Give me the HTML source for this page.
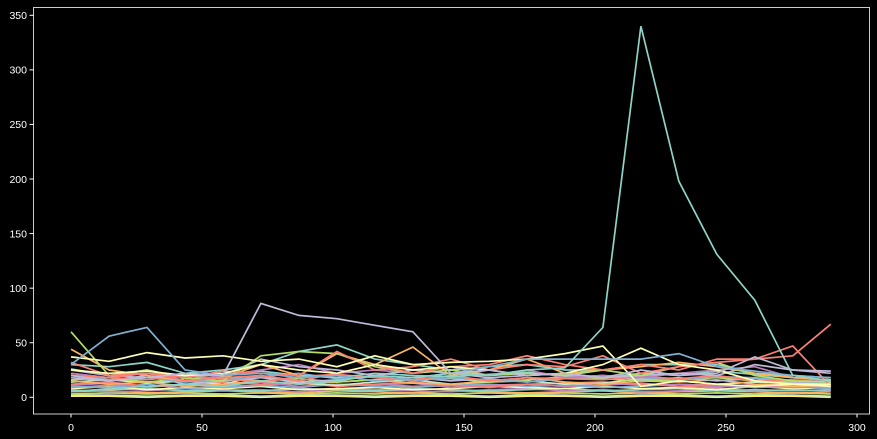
<!DOCTYPE html>
<html><head><meta charset="utf-8"><style>
html,body{margin:0;padding:0;background:#000;width:877px;height:439px;overflow:hidden}
svg text{font-family:"Liberation Sans","DejaVu Sans",sans-serif;font-size:10.5px;fill:#fff}
</style></head><body>
<svg id="chart" width="877" height="439" xmlns="http://www.w3.org/2000/svg">
<rect x="0" y="0" width="877" height="439" fill="#000"/>
<g id="lines"></g>
<rect x="33.5" y="7.5" width="836" height="406.5" fill="none" stroke="#fff" stroke-width="0.8"/>
<g id="axes"></g>
</svg>
<script>
const xTicks=[0,50,100,150,200,250,300];
const yTicks=[0,50,100,150,200,250,300,350];
const xStep=14.5;
const sTeal=[5,8,10,12,10,15,12,15,20,18,22,20,25,27,64,340,198,131,89,20,15];
const sPurple=[20,15,18,22,20,86,75,72,66,60,22,25,20,22,18,25,20,22,37,25,24];
const sBlue=[30,56,64,25,20,22,18,20,15,18,22,28,35,35,35,35,40,28,24,20,18];
const sYellow=[37,33,41,36,38,33,35,28,38,30,32,33,35,40,47,10,15,12,10,12,12];
const sYellow2=[25,22,24,20,22,30,25,22,30,25,28,25,20,22,30,45,30,25,15,12,10];
const sRed=[32,20,22,18,24,22,20,42,25,28,35,25,30,28,38,22,28,32,35,38,67];
const sRed2=[20,18,22,15,18,20,15,22,30,22,28,30,38,30,25,30,25,35,35,47,10];
const sGreenYellow=[60,20,25,18,15,38,42,40,28,22,25,20,22,20,25,20,28,32,20,15,14];
const sOrange=[44,25,20,15,18,30,20,40,30,46,20,25,35,22,25,28,32,28,22,18,16];
const sMint=[30,28,32,22,25,30,42,48,35,30,25,28,30,25,25,30,30,30,22,20,18];
const sLav=[25,20,18,22,20,35,28,25,20,25,22,18,20,22,18,20,22,20,30,25,22];
const sMagenta=[22,18,25,15,20,25,30,22,25,22,28,20,25,18,20,18,22,25,28,18,15];
const low1=[18,15,20,12,15,18,14,16,20,18,15,17,14,18,20,16,18,15,17,14,12];
const low2=[15,12,14,10,12,15,12,14,16,13,12,15,18,14,12,15,14,16,12,10,11];
const low3=[12,14,10,11,14,12,15,10,12,14,11,10,12,13,14,12,10,12,14,12,10];
const low4=[10,9,12,8,10,11,9,12,10,9,11,12,10,11,9,10,12,11,9,10,8];
const low5=[8,10,7,9,8,10,7,8,9,7,8,10,9,8,10,8,9,7,10,8,9];
const low6=[6,7,8,6,7,6,8,7,6,8,7,6,7,8,6,7,8,6,7,6,7];
const low7=[5,6,4,5,6,5,4,6,5,4,6,5,4,5,6,4,5,6,5,4,5];
const low8=[3,4,3,4,3,4,3,4,3,4,3,4,3,4,3,4,3,4,3,4,3];
const low9=[2,2,1,2,2,1,2,2,1,2,2,1,2,2,1,2,2,1,2,2,1];
const low10=[22,18,16,20,17,14,19,21,18,16,20,15,18,17,16,19,17,20,15,16,14];
const low11=[14,16,13,15,12,20,13,11,14,16,12,14,15,12,13,17,15,12,14,13,12];
const low12=[26,20,22,19,21,24,20,18,22,20,19,21,23,20,18,22,20,24,21,18,16];
const low13=[11,13,9,12,11,14,10,12,11,13,9,11,12,10,13,11,12,10,11,9,10];
const low14=[1,1,0,1,1,0,1,1,0,1,1,0,1,1,0,1,1,0,1,1,0];
const low15=[16,18,14,17,19,15,17,14,16,18,17,14,16,19,17,15,16,18,15,13,14];
const low16=[9,11,10,12,9,11,13,10,12,10,11,9,12,10,11,13,10,9,12,11,9];
const low17=[7,5,6,8,6,7,5,8,7,6,5,7,8,6,7,5,6,8,6,7,6];
const low18=[20,16,18,14,16,19,22,17,19,15,18,16,14,17,19,18,16,19,18,15,13];
const series=[low14,low9,low8,low7,low17,low6,low5,low16,low4,low13,low3,low11,low2,low15,low1,low18,low10,low12,sMagenta,sLav,sMint,sOrange,sGreenYellow,sRed2,sRed,sYellow2,sYellow,sBlue,sPurple,sTeal];
const sColors=["#ffed6f","#ccebc4","#b3de69","#fdb462","#bc82bd","#8dd3c7","#feffb3","#fa8174","#81b1d2","#bc82bd","#fa8174","#ccebc4","#fdb462","#b3de69","#bfbbd9","#81b1d2","#fa8174","#8dd3c7","#bc82bd","#bfbbd9","#8dd3c7","#fdb462","#b3de69","#fa8174","#fa8174","#feffb3","#feffb3","#81b1d2","#bfbbd9","#8dd3c7"];
const xs=v=>71+v*(857-71)/300;
const ys=v=>397.3-v*(397.3-15.3)/350;
const NS="http://www.w3.org/2000/svg";
const g=document.getElementById('lines');
series.forEach((s,k)=>{
  const p=document.createElementNS(NS,'polyline');
  p.setAttribute('points',s.map((v,i)=>xs(i*xStep).toFixed(1)+','+ys(v).toFixed(1)).join(' '));
  p.setAttribute('fill','none');
  p.setAttribute('stroke',sColors[k]);
  p.setAttribute('stroke-width','1.7');
  
  
  g.appendChild(p);
});
const ax=document.getElementById('axes');
xTicks.forEach(t=>{
  const l=document.createElementNS(NS,'line');
  l.setAttribute('x1',xs(t));l.setAttribute('x2',xs(t));l.setAttribute('y1',414);l.setAttribute('y2',417.5);l.setAttribute('stroke','#fff');
  
  
  ax.appendChild(l);
  const tx=document.createElementNS(NS,'text');
  tx.setAttribute('x',xs(t));tx.setAttribute('y',431);tx.setAttribute('text-anchor','middle');tx.textContent=t;
  
  
  ax.appendChild(tx);
});
yTicks.forEach(t=>{
  const l=document.createElementNS(NS,'line');
  l.setAttribute('x1',29.5);l.setAttribute('x2',33.5);l.setAttribute('y1',ys(t));l.setAttribute('y2',ys(t));l.setAttribute('stroke','#fff');
  
  
  ax.appendChild(l);
  const tx=document.createElementNS(NS,'text');
  tx.setAttribute('x',27);tx.setAttribute('y',ys(t)+3.8);tx.setAttribute('text-anchor','end');tx.textContent=t;
  
  
  ax.appendChild(tx);
});
</script>
</body></html>
